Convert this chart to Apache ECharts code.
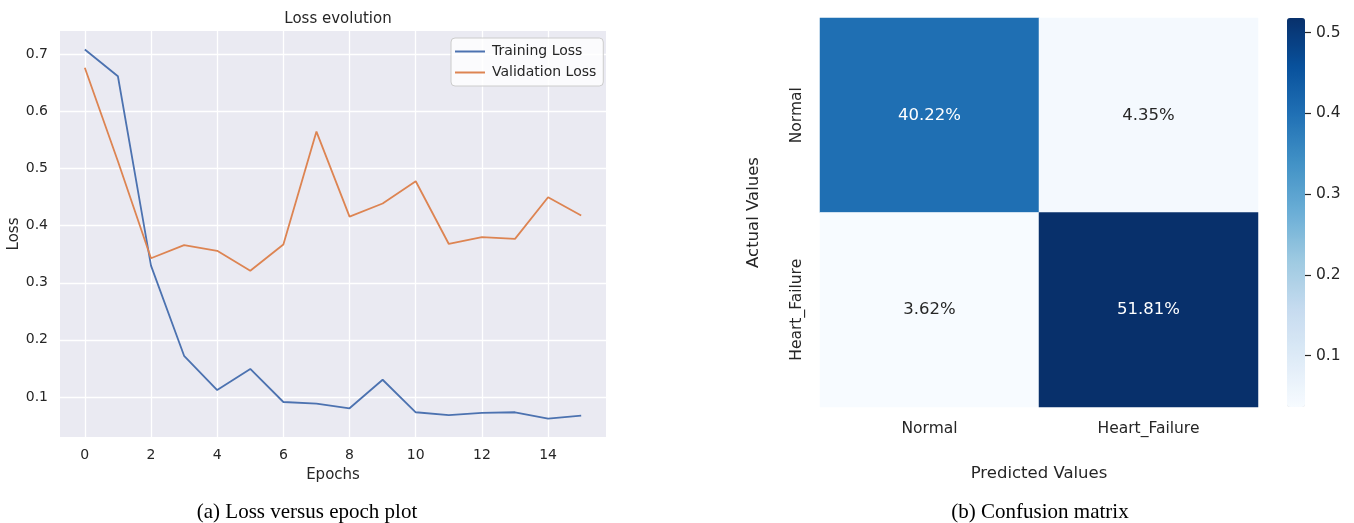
<!DOCTYPE html>
<html>
<head>
<meta charset="utf-8">
<script src="https://cdn.jsdelivr.net/npm/echarts@6/dist/echarts.min.js"></script>
<style>
  html, body { margin: 0; padding: 0; background: #ffffff; }
  #chart { width: 1354px; height: 523px; }
</style>
</head>
<body>
<div id="chart"></div>
<script>
// ---- Loss curves (per epoch) ----
const epochs = [0, 1, 2, 3, 4, 5, 6, 7, 8, 9, 10, 11, 12, 13, 14, 15];
const trainingLoss = [0.709, 0.662, 0.330, 0.172, 0.112, 0.149, 0.091, 0.088, 0.080, 0.130, 0.073, 0.068, 0.072, 0.073, 0.062, 0.067];
const validationLoss = [0.677, 0.513, 0.343, 0.366, 0.356, 0.321, 0.367, 0.565, 0.416, 0.439, 0.478, 0.368, 0.380, 0.377, 0.450, 0.418];
const epochTicks = [0, 2, 4, 6, 8, 10, 12, 14];
const lossTicks = [0.1, 0.2, 0.3, 0.4, 0.5, 0.6, 0.7];

// ---- Confusion matrix (fractions of all samples) ----
const classes = ['Normal', 'Heart_Failure'];
const matrixRows = [
  [0.4022, 0.0435],   // actual Normal
  [0.0362, 0.5181]    // actual Heart_Failure
];
const colorbarTicks = [0.1, 0.2, 0.3, 0.4, 0.5];

// "Blues" colour ramp, light to dark
const blues = ['#f7fbff', '#deebf7', '#c6dbef', '#9ecae1', '#6baed6', '#4292c6', '#2171b5', '#08519c', '#08306b'];

const FONT = '"DejaVu Sans", sans-serif';
const SERIF = '"Liberation Serif", "DejaVu Serif", serif';
const INK = '#262626';

// padded ranges for the line plot
const allLoss = trainingLoss.concat(validationLoss);
const lMin = Math.min(...allLoss), lMax = Math.max(...allLoss);
const lPad = (lMax - lMin) * 0.05;
const ePad = (epochs[epochs.length - 1] - epochs[0]) * 0.05;

const flat = [].concat(...matrixRows);
const vMin = Math.min(...flat), vMax = Math.max(...flat);

const heatData = [];
matrixRows.forEach((row, r) => row.forEach((v, c) => {
  const t = (v - vMin) / (vMax - vMin);
  heatData.push({
    value: [c, r, v],
    label: { color: t > 0.5 ? '#ffffff' : INK }
  });
}));

const chart = echarts.init(document.getElementById('chart'), null, { renderer: 'canvas' });

chart.setOption({
  backgroundColor: '#ffffff',
  animation: false,
  textStyle: { fontFamily: FONT, color: INK },
  title: {
    text: 'Loss evolution',
    left: 333, top: 7, textAlign: 'center',
    textStyle: { fontFamily: FONT, fontSize: 15, fontWeight: 'normal', color: INK }
  },
  legend: {
    data: ['Training Loss', 'Validation Loss'],
    orient: 'vertical',
    left: 451, top: 38,
    padding: [6, 7, 6, 4],
    itemGap: 6,
    itemWidth: 30, itemHeight: 2,
    icon: 'rect',
    backgroundColor: 'rgba(255,255,255,0.8)',
    borderColor: '#cccccc', borderWidth: 1, borderRadius: 4,
    textStyle: { fontFamily: FONT, fontSize: 14, color: INK, padding: [0, 0, 0, 2], lineHeight: 15 }
  },
  grid: [
    { left: 60, top: 31, width: 546, height: 406, show: true, backgroundColor: '#eaeaf2', borderWidth: 0 },
    { left: 820, top: 18, width: 438, height: 389 },
    { left: 1287, top: 18, width: 18, height: 389 }
  ],
  xAxis: [
    {
      gridIndex: 0, type: 'value',
      min: epochs[0] - ePad, max: epochs[epochs.length - 1] + ePad,
      name: 'Epochs', nameLocation: 'middle', nameGap: 31,
      nameTextStyle: { fontFamily: FONT, fontSize: 15, color: INK },
      axisLine: { show: false },
      axisTick: { show: false, customValues: epochTicks },
      axisLabel: { customValues: epochTicks, margin: 11, fontFamily: FONT, fontSize: 14, color: INK },
      splitLine: { show: true, lineStyle: { color: '#ffffff', width: 1.3 } }
    },
    {
      gridIndex: 1, type: 'category', data: classes,
      name: 'Predicted Values', nameLocation: 'middle', nameGap: 58,
      nameTextStyle: { fontFamily: FONT, fontSize: 16.5, color: INK },
      axisLine: { show: false }, axisTick: { show: false },
      axisLabel: { margin: 14, fontFamily: FONT, fontSize: 15.5, color: INK },
      splitLine: { show: false }
    },
    { gridIndex: 2, type: 'value', show: false, min: 0, max: 1 }
  ],
  yAxis: [
    {
      gridIndex: 0, type: 'value',
      min: lMin - lPad, max: lMax + lPad,
      name: 'Loss', nameLocation: 'middle', nameGap: 36, nameRotate: 90,
      nameTextStyle: { fontFamily: FONT, fontSize: 15, color: INK },
      axisLine: { show: false },
      axisTick: { show: false, customValues: lossTicks },
      axisLabel: { customValues: lossTicks, margin: 12, fontFamily: FONT, fontSize: 14, color: INK,
                   formatter: v => v.toFixed(1) },
      splitLine: { show: true, lineStyle: { color: '#ffffff', width: 1.3 } }
    },
    {
      gridIndex: 1, type: 'category', data: classes, inverse: true,
      name: 'Actual Values', nameLocation: 'middle', nameGap: 58, nameRotate: 90,
      nameTextStyle: { fontFamily: FONT, fontSize: 16.5, color: INK },
      axisLine: { show: false }, axisTick: { show: false },
      axisLabel: { rotate: 90, margin: 15, fontFamily: FONT, fontSize: 15.5, color: INK },
      splitLine: { show: false }
    },
    {
      // colorbar scale: ticks sit just right of the gradient bar
      gridIndex: 2, type: 'value', position: 'right',
      min: vMin, max: vMax,
      axisLine: { show: true, onZero: false, lineStyle: { color: 'rgba(0,0,0,0)', width: 0 } },
      axisTick: { show: true, inside: false, length: 6, customValues: colorbarTicks, lineStyle: { color: INK, width: 1.2 } },
      axisLabel: { show: true, customValues: colorbarTicks, margin: 11, fontFamily: FONT, fontSize: 15.5, color: INK,
                   formatter: v => v.toFixed(1) },
      splitLine: { show: false },
      z: 5
    }
  ],
  visualMap: {
    type: 'continuous',
    seriesIndex: 2,
    min: vMin, max: vMax,
    orient: 'vertical',
    left: 1287, top: 18,
    itemWidth: 18, itemHeight: 389,
    padding: 0,
    calculable: false,
    showLabel: false,
    text: null,
    hoverLink: false,
    inRange: { color: blues }
  },
  series: [
    {
      name: 'Training Loss', type: 'line',
      xAxisIndex: 0, yAxisIndex: 0,
      data: epochs.map((e, i) => [e, trainingLoss[i]]),
      showSymbol: false, symbol: 'none',
      color: '#4c72b0',
      lineStyle: { width: 1.8, color: '#4c72b0' },
      z: 3
    },
    {
      name: 'Validation Loss', type: 'line',
      xAxisIndex: 0, yAxisIndex: 0,
      data: epochs.map((e, i) => [e, validationLoss[i]]),
      showSymbol: false, symbol: 'none',
      color: '#dd8452',
      lineStyle: { width: 1.8, color: '#dd8452' },
      z: 3
    },
    {
      name: 'Confusion matrix', type: 'heatmap',
      xAxisIndex: 1, yAxisIndex: 1,
      data: heatData,
      label: {
        show: true,
        fontFamily: FONT, fontSize: 16.5,
        formatter: p => (p.value[2] * 100).toFixed(2) + '%'
      },
      itemStyle: { borderWidth: 0 },
      emphasis: { disabled: true }
    }
  ],
  graphic: [
    {
      type: 'text', z: 10,
      style: { text: '(a) Loss versus epoch plot', x: 307, y: 512, align: 'center', verticalAlign: 'middle',
               fontFamily: SERIF, fontSize: 21, fill: '#000000' }
    },
    {
      type: 'text', z: 10,
      style: { text: '(b) Confusion matrix', x: 1040, y: 512, align: 'center', verticalAlign: 'middle',
               fontFamily: SERIF, fontSize: 21, fill: '#000000' }
    }
  ]
});
</script>
</body>
</html>
